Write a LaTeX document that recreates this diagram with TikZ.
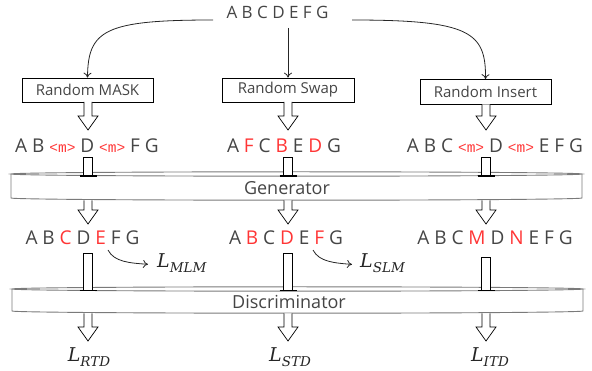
\documentclass[tikz,border=0pt]{standalone}
\usepackage{fontspec}
\setmainfont{Open Sans}
\setmonofont{Liberation Mono}
\newfontfamily\lossfont{DejaVu Serif}
\usetikzlibrary{arrows.meta}
\definecolor{txt}{HTML}{454545}
\definecolor{hl}{HTML}{FF3535}
\definecolor{cylc}{HTML}{7A7A7A}
\newcommand{\R}[1]{\textcolor{hl}{#1}}
\newcommand{\Mk}{\textcolor{hl}{\fontsize{14.5}{15}\selectfont\ttfamily<m>}}
\newcommand{\Loss}[1]{{\lossfont\itshape L\raisebox{-4.5pt}{\fontsize{13.5}{14}\selectfont #1}}}
\newcommand{\hollowdown}[3]{%
  \draw[blk] (#1-4,#2) -- (#1-4,#3-14) -- (#1-10,#3-14) -- (#1,#3) -- (#1+10,#3-14) -- (#1+4,#3-14) -- (#1+4,#2);}
\newcommand{\feedin}[3]{%
  \draw[blk] (#1-4.5,#2) rectangle (#1+4.5,#3);
  \draw[line width=1.3pt] (#1-8.5,#3) -- (#1+8.5,#3);}
\newcommand{\cylinder}[5]{% left, right, top, bottom, name
  \path[fill=white] (#1,#3) rectangle (#2,#4);
  \draw[cyl] (#1,#3) -- (#1,#4) arc[start angle=180,end angle=0,x radius={(#2-#1)/2},y radius=2.2] -- (#2,#3);
  \draw[cyl] ({(#1+#2)/2},#3) ellipse [x radius={(#2-#1)/2},y radius=2.2];
  \coordinate (#5) at ({(#1+#2)/2},{(#3+#4)/2});}
\tikzset{
  seq/.style={text=txt,inner sep=0pt,font=\fontsize{17}{19}\selectfont},
  row/.style={seq,anchor=base,font=\fontsize{19}{21}\selectfont},
  op/.style={draw=black,line width=0.7pt,text=txt,minimum height=24pt,inner sep=0pt,font=\fontsize{15}{17}\selectfont},
  blk/.style={draw=black,fill=white,line width=0.7pt,line join=miter},
  cyl/.style={draw=cylc,line width=0.9pt},
  conn/.style={draw=black!85,line width=0.8pt,-{To[length=5pt,width=8pt]}},
  loss/.style={inner sep=0pt,text=black!85,font=\fontsize{19}{21}\selectfont},
  lbl/.style={text=txt,inner sep=0pt,font=\fontsize{18}{20}\selectfont}
}
\begin{document}
\begin{tikzpicture}[x=1pt,y=-1pt]
\useasboundingbox (0,0) rectangle (592,371);
% top sequence
\node[seq,anchor=base] (src) at (277.5,19) {A B C D E F G};
\coordinate (srcL) at (213,20);
\coordinate (srcM) at (288,28);
\coordinate (srcR) at (352,20);
% operation boxes
\node[op,minimum width=131pt] (mask) at (87.5,90) {Random MASK};
\node[op,minimum width=132pt] (swap) at (288,90) {Random Swap};
\node[op,minimum width=131pt,minimum height=25pt] (ins) at (485.5,92) {Random Insert};
\draw[conn] (srcL) .. controls (105,20) and (88,30) .. (mask.north);
\draw[conn] (srcM) -- (swap.north);
\draw[conn] (srcR) .. controls (470,20) and (486,32) .. (ins.north);
% arrows to corrupted sequences
\hollowdown{88}{102}{130}
\hollowdown{288}{102}{130}
\hollowdown{486}{104.5}{130}
% corrupted sequences
\node[row] (c1) at (87,153) {A B \Mk{} D \Mk{} F G};
\node[row] (c2) at (284,153) {A \R{F} C \R{B} E \R{D} G};
\node[row] (c3) at (495,153) {A B C \Mk{} D \Mk{} E F G};
% generator
\cylinder{11}{582}{174}{198}{gen}
\node[lbl] (genl) at (287,188) {Generator};
\feedin{88}{157}{176}
\feedin{288}{157}{176}
\feedin{486}{157}{176}
\hollowdown{88}{200.5}{224}
\hollowdown{288}{200.5}{224}
\hollowdown{486}{200.5}{224}
% generated sequences
\node[row] (g1) at (82.5,245) {A B \R{C} D \R{E} F G};
\node[row] (g2) at (286,245) {A \R{B} C \R{D} E \R{F} G};
\node[row] (g3) at (495,245) {A B C \R{M} D \R{N} E F G};
% generator losses
\node[loss,anchor=base west] (lmlm) at (157,268) {\Loss{MLM}};
\node[loss,anchor=base west] (lslm) at (360,268) {\Loss{SLM}};
\coordinate (m1) at (108,250);
\coordinate (m2) at (313,250);
\draw[conn] (m1) .. controls (114,262) and (130,263) .. ([xshift=-9pt,yshift=-1pt]lmlm.west);
\draw[conn] (m2) .. controls (319,262) and (335,263) .. ([xshift=-8pt,yshift=-1pt]lslm.west);
% discriminator
\cylinder{12}{583}{289}{311}{disc}
\node[lbl] (discl) at (289,302) {Discriminator};
\feedin{88}{253}{290.5}
\feedin{288}{253}{290.5}
\feedin{486}{257}{290.5}
\hollowdown{88}{313.5}{341}
\hollowdown{288}{313.5}{341}
\hollowdown{486}{313.5}{341}
% discriminator losses
\node[loss,anchor=base] (lrtd) at (89,362) {\Loss{RTD}};
\node[loss,anchor=base] (lstd) at (290,362) {\Loss{STD}};
\node[loss,anchor=base] (litd) at (490,362) {\Loss{ITD}};
\end{tikzpicture}
\end{document}
